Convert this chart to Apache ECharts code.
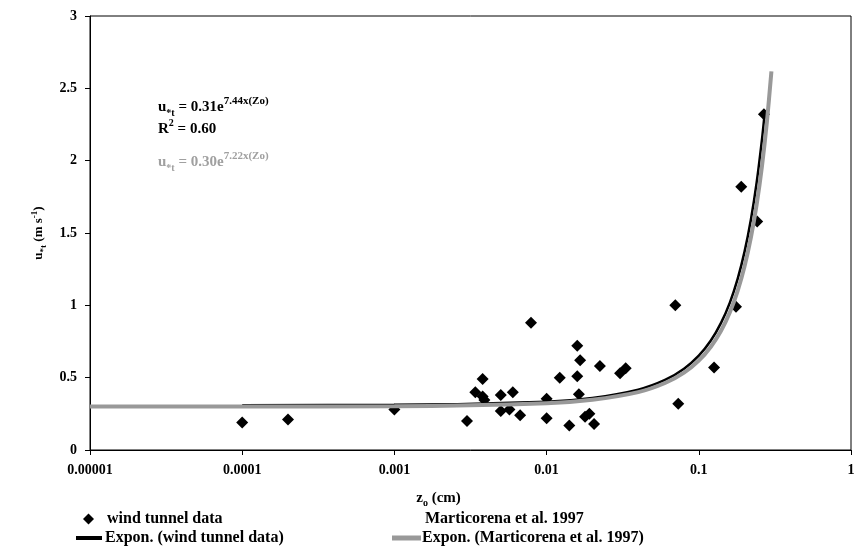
<!DOCTYPE html>
<html>
<head>
<meta charset="utf-8">
<script src="https://cdn.jsdelivr.net/npm/echarts@6/dist/echarts.min.js"></script>
<style>html,body{margin:0;padding:0;background:#fff;}#c{width:868px;height:553px;}</style>
</head>
<body>
<div id="c"></div>
<script>
// ---- data ----
const windX = [0.0001, 0.0002, 0.001, 0.003, 0.0034, 0.0038, 0.0038, 0.0039, 0.005, 0.005, 0.0057, 0.006, 0.0067, 0.0079, 0.01, 0.01, 0.0122, 0.0141, 0.0159, 0.0166, 0.0159, 0.0163, 0.0179, 0.0191, 0.0205, 0.0224, 0.0304, 0.0331, 0.0701, 0.0733, 0.126, 0.1755, 0.19, 0.242, 0.268];
const windY = [0.19, 0.21, 0.28, 0.2, 0.4, 0.49, 0.37, 0.345, 0.38, 0.27, 0.28, 0.4, 0.24, 0.88, 0.355, 0.22, 0.5, 0.17, 0.72, 0.62, 0.51, 0.385, 0.23, 0.25, 0.18, 0.58, 0.53, 0.565, 1.0, 0.32, 0.57, 0.99, 1.82, 1.58, 2.32];

// trend line (wind tunnel data) values
const trendWindX = [0.0001, 0.001, 0.01, 0.02, 0.04, 0.06, 0.08, 0.1, 0.12, 0.14, 0.16, 0.18, 0.2, 0.22, 0.24, 0.26, 0.27];
const trendWindY = [0.310, 0.312, 0.334, 0.360, 0.417, 0.484, 0.562, 0.652, 0.757, 0.879, 1.019, 1.183, 1.373, 1.593, 1.849, 2.145, 2.311];

// trend line (Marticorena et al. 1997)
const trendMartX = [0.00001, 0.0001, 0.001, 0.01, 0.02, 0.04, 0.06, 0.08, 0.1, 0.12, 0.14, 0.16, 0.18, 0.2, 0.22, 0.24, 0.26, 0.28, 0.3];
const trendMartY = [0.300, 0.300, 0.302, 0.323, 0.347, 0.400, 0.463, 0.535, 0.618, 0.714, 0.824, 0.952, 1.100, 1.271, 1.469, 1.697, 1.961, 2.265, 2.617];

const xTickLabels = ['0.00001', '0.0001', '0.001', '0.01', '0.1', '1'];
const yTicks = [0, 0.5, 1, 1.5, 2, 2.5, 3];

const seriesNames = ['wind tunnel data', 'Marticorena et al. 1997', 'Expon. (wind tunnel data)', 'Expon. (Marticorena et al. 1997)'];

// ---- chart ----
const FONT = '"Liberation Serif", "Times New Roman", serif';
const zip = (a, b) => a.map((v, i) => [v, b[i]]);

const chart = echarts.init(document.getElementById('c'));
const legendText = { fontFamily: FONT, fontWeight: 'bold', fontSize: 16, color: '#000' };

chart.setOption({
  animation: false,
  backgroundColor: '#fff',
  grid: { left: 90, right: 17, top: 16, bottom: 103, show: true, borderColor: '#000', borderWidth: 1, backgroundColor: 'transparent' },
  xAxis: {
    type: 'log', logBase: 10, min: 0.00001, max: 1,
    axisLine: { lineStyle: { color: '#000', width: 1 } },
    axisTick: { show: true, length: 5, lineStyle: { color: '#000' } },
    splitLine: { show: false },
    minorTick: { show: false },
    axisLabel: {
      margin: 13, color: '#000', fontFamily: FONT, fontWeight: 'bold', fontSize: 14,
      formatter: v => xTickLabels[Math.round(Math.log10(v)) + 5]
    },
    name: 'z{sub|o} (cm)',
    nameLocation: 'middle', nameGap: 39,
    nameTextStyle: {
      color: '#000', fontFamily: FONT, fontWeight: 'bold', fontSize: 15, padding: [0, 64, 0, 0],
      rich: { sub: { fontFamily: FONT, fontWeight: 'bold', fontSize: 10, verticalAlign: 'bottom', lineHeight: 19 } }
    }
  },
  yAxis: {
    type: 'value', min: yTicks[0], max: yTicks[yTicks.length - 1], interval: 0.5,
    axisLine: { show: true, lineStyle: { color: '#000', width: 1 } },
    axisTick: { show: true, length: 5, lineStyle: { color: '#000' } },
    splitLine: { show: false },
    axisLabel: { margin: 13, color: '#000', fontFamily: FONT, fontWeight: 'bold', fontSize: 14 },
    name: 'u{sub|*t} (m s{sup|-1})',
    nameLocation: 'middle', nameGap: 42, nameRotate: 90,
    nameTextStyle: {
      color: '#000', fontFamily: FONT, fontWeight: 'bold', fontSize: 13, lineHeight: 18,
      rich: {
        sub: { fontFamily: FONT, fontWeight: 'bold', fontSize: 9, verticalAlign: 'bottom', lineHeight: 18 },
        sup: { fontFamily: FONT, fontWeight: 'bold', fontSize: 9, verticalAlign: 'top', lineHeight: 18 }
      }
    }
  },
  legend: [
    { data: [{ name: seriesNames[0], icon: 'diamond' }], left: 83, top: 511, padding: 0, itemWidth: 11, itemHeight: 11,
      textStyle: Object.assign({ padding: [0, 0, 0, 8] }, legendText), selectedMode: false },
    { data: [{ name: seriesNames[1], itemStyle: { opacity: 0 } }], left: 395, top: 511, padding: 0, itemWidth: 25, itemHeight: 10, textStyle: legendText, selectedMode: false },
    { data: [{ name: seriesNames[2], icon: 'rect' }], left: 76, top: 530, padding: 0, itemWidth: 26, itemHeight: 4, textStyle: Object.assign({ padding: [0, 0, 0, -2] }, legendText), selectedMode: false },
    { data: [{ name: seriesNames[3], icon: 'rect' }], left: 392, top: 530, padding: 0, itemWidth: 29, itemHeight: 5, textStyle: Object.assign({ padding: [0, 0, 0, -4] }, legendText), selectedMode: false }
  ],
  graphic: [
    {
      type: 'text', left: 158, top: 96,
      style: {
        text: 'u{sub|*t} = 0.31e{sup|7.44x(Zo)}',
        fill: '#000', font: 'bold 15px ' + FONT, lineHeight: 22,
        rich: {
          sub: { fontFamily: FONT, fontWeight: 'bold', fontSize: 10, verticalAlign: 'bottom', lineHeight: 22 },
          sup: { fontFamily: FONT, fontWeight: 'bold', fontSize: 11, verticalAlign: 'top', lineHeight: 22 }
        }
      }
    },
    {
      type: 'text', left: 158, top: 118,
      style: {
        text: 'R{sup|2} = 0.60',
        fill: '#000', font: 'bold 15px ' + FONT, lineHeight: 22,
        rich: { sup: { fontFamily: FONT, fontWeight: 'bold', fontSize: 10, verticalAlign: 'top', lineHeight: 22 } }
      }
    },
    {
      type: 'text', left: 158, top: 151,
      style: {
        text: 'u{sub|*t} = 0.30e{sup|7.22x(Zo)}',
        fill: '#a0a0a0', font: 'bold 15px ' + FONT, lineHeight: 22,
        rich: {
          sub: { fontFamily: FONT, fontWeight: 'bold', fontSize: 10, verticalAlign: 'bottom', lineHeight: 22, color: '#a0a0a0' },
          sup: { fontFamily: FONT, fontWeight: 'bold', fontSize: 11, verticalAlign: 'top', lineHeight: 22, color: '#a0a0a0' }
        }
      }
    }
  ],
  series: [
    {
      name: seriesNames[0], type: 'scatter', symbol: 'diamond', symbolSize: 12,
      itemStyle: { color: '#000', opacity: 1 }, data: zip(windX, windY), z: 2
    },
    {
      name: seriesNames[1], type: 'scatter', symbol: 'none', data: [], itemStyle: { color: '#fff' }
    },
    {
      name: seriesNames[2], type: 'line', smooth: 0.3, showSymbol: false, symbol: 'none',
      lineStyle: { color: '#000', width: 2.5 }, itemStyle: { color: '#000' },
      data: zip(trendWindX, trendWindY), z: 3
    },
    {
      name: seriesNames[3], type: 'line', smooth: 0.3, showSymbol: false, symbol: 'none',
      lineStyle: { color: '#999999', width: 4 }, itemStyle: { color: '#999999' },
      data: zip(trendMartX, trendMartY), z: 4
    }
  ]
});
</script>
</body>
</html>
